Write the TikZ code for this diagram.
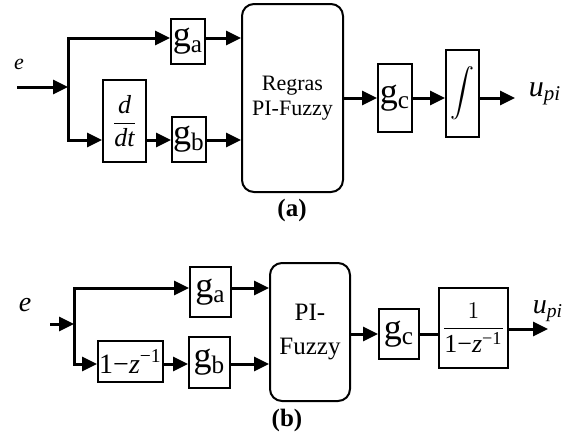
\documentclass[tikz,border=0pt]{standalone}
\usepackage{amsmath}
\usepackage{fontspec}
\setmainfont{Liberation Serif}
\usepackage{tikz}
\usetikzlibrary{positioning,arrows.meta,calc}
\newcommand{\gn}[1]{{\fontsize{18}{18}\selectfont g\textsubscript{#1}}}

\begin{document}
\begin{tikzpicture}[x=0.5pt,y=-0.5pt,>={Triangle[length=7.5pt,width=7pt]},
  blk/.style={draw,line width=1pt,inner sep=0pt},
  fzbox/.style={blk,rounded corners=6pt,align=center},
  sig/.style={line width=1.5pt}]
  \useasboundingbox (0,0) rectangle (573,434);
  % ---------------- (a) continuous ----------------
  \node[blk,minimum width=17pt,minimum height=22.5pt] (ga) at (188,41.5) {\gn{a}};
  \node[blk,minimum width=21.5pt,minimum height=41pt] (ddt) at (124.5,121)
    {\fontsize{13}{13}\selectfont$\dfrac{\textit{d}}{\textit{dt}}$};
  \node[blk,minimum width=17pt,minimum height=22.5pt] (gb) at (189,139.5) {\gn{b}};
  \node[fzbox,minimum width=50.5pt,minimum height=94pt,font=\fontsize{11}{12.5}\selectfont] (fz) at (292.5,98) {Regras\\PI-Fuzzy};
  \node[blk,minimum width=17pt,minimum height=34pt] (gc) at (395,98) {\gn{c}};
  \node[blk,minimum width=16.5pt,minimum height=43.5pt] (int) at (462.5,93.5)
    {\fontsize{12}{14}\selectfont$\displaystyle\int$};
  \coordinate (in) at (17,87);
  \coordinate (br) at (68,87);
  \coordinate (ta) at (68,38);
  \coordinate (tb) at (68,140);
  \coordinate (out) at (515,98);
  \node (e) at (19,64) {\fontsize{11}{11}\selectfont\textit{e}};
  \node (u) at (545,94) {\fontsize{15}{15}\selectfont\textit{u}\textsubscript{\textit{pi}}};
  \draw[sig,->] (in) -- (br);
  \draw[sig,<->] (ga.west|-ta) -- (ta) -- (tb) -- (ddt.west|-tb);
  \draw[sig,->] (ga.east|-ta) -- (fz.west|-ta);
  \draw[sig,->] (ddt.east|-tb) -- (gb.west|-tb);
  \draw[sig,->] (gb.east|-tb) -- (fz.west|-tb);
  \draw[sig,->] (fz.east|-gc) -- (gc.west);
  \draw[sig,->] (gc.east) -- (int.west|-gc);
  \draw[sig,->] (int.east|-gc) -- (out);
  \node[font=\fontsize{12.5}{12.5}\selectfont\bfseries] (capa) at (292,210) {(a)};
  % ---------------- (b) discrete ----------------
  \node[blk,minimum width=20.5pt,minimum height=25pt] (ga2) at (210.5,292) {\gn{a}};
  \node[blk,minimum width=32.5pt,minimum height=20.5pt] (zz) at (130.5,361.5)
    {\fontsize{14}{14}\selectfont 1−\textit{z}\textsuperscript{−1}};
  \node[blk,minimum width=20.5pt,minimum height=25.5pt] (gb2) at (209.5,362.5) {\gn{b}};
  \node[fzbox,minimum width=40pt,minimum height=69pt,font=\fontsize{12.5}{17}\selectfont] (fz2) at (310,332) {PI-\\Fuzzy};
  \node[blk,minimum width=20pt,minimum height=25pt] (gc2) at (399,334) {\gn{c}};
  \node[blk,minimum width=34.5pt,minimum height=40pt] (tf) at (473.5,328)
    {\fontsize{13}{13}\selectfont$\dfrac{1}{\text{1−\textit{z}\textsuperscript{−1}}}$};
  \coordinate (in2) at (50,324);
  \coordinate (br2) at (74,324);
  \coordinate (ta2) at (74,288);
  \coordinate (tb2) at (74,364);
  \coordinate (out2) at (548,329);
  \node (e2) at (25,305) {\fontsize{14}{14}\selectfont\textit{e}};
  \node (u2) at (548,311) {\fontsize{14}{14}\selectfont\textit{u}\textsubscript{\textit{pi}}};
  \draw[sig,->] (in2) -- (br2);
  \draw[sig,<->] (ga2.west|-ta2) -- (ta2) -- (tb2) -- (zz.west|-tb2);
  \draw[sig,->] (ga2.east|-ta2) -- (fz2.west|-ta2);
  \draw[sig,->] (zz.east|-tb2) -- (gb2.west|-tb2);
  \draw[sig,->] (gb2.east|-tb2) -- (fz2.west|-tb2);
  \draw[sig,->] (fz2.east|-gc2) -- (gc2.west);
  \draw[sig] (gc2.east) -- (tf.west|-gc2);
  \draw[sig,->] (tf.east|-out2) -- (out2);
  \node[font=\fontsize{12.5}{12.5}\selectfont\bfseries] (capb) at (287,420) {(b)};
\end{tikzpicture}
\end{document}
